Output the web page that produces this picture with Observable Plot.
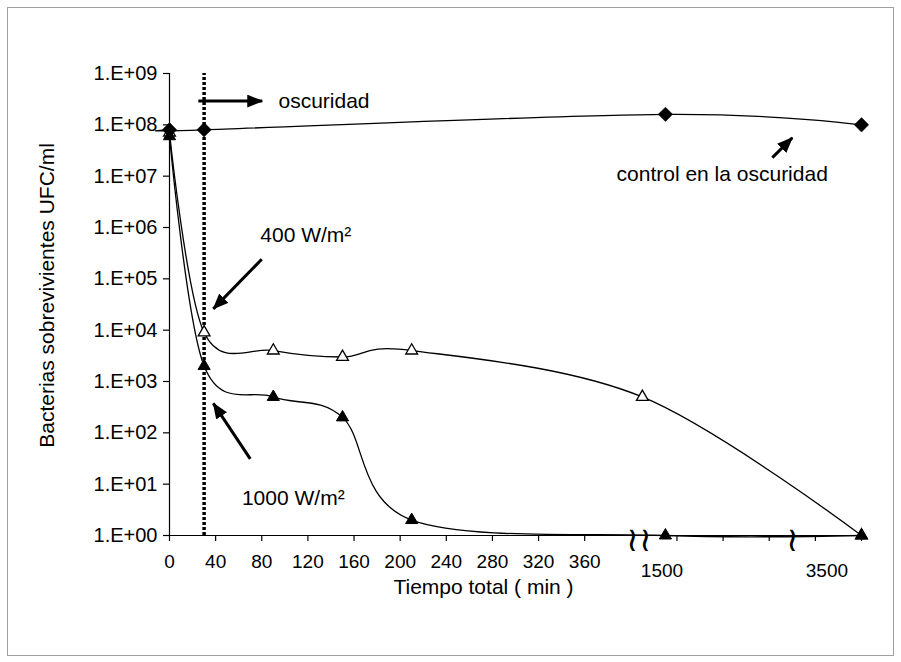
<!DOCTYPE html>
<html><head><meta charset="utf-8">
<script src="https://cdn.jsdelivr.net/npm/d3@7"></script>
<script src="https://cdn.jsdelivr.net/npm/@observablehq/plot@0.6"></script>
<style>
body{margin:0;background:#fff;}
#wrap{position:relative;width:901px;height:662px;}
#wrap svg{position:absolute;left:0;top:0;}
#frame{position:absolute;left:7px;top:7px;width:885px;height:647px;border:1px solid #a0a0a0;pointer-events:none;}
</style></head><body><div id="wrap"><div id="frame"></div></div>
<script>
// Data (x in axis units: minutes on the compressed axis)
const controlTime = [0, 30, 430, 600];
const controlUFC = [8e7, 8e7, 1.6e8, 1e8];
const w400Time = [0, 30, 90, 150, 210, 410, 600];
const w400UFC = [7e7, 9e3, 4e3, 3e3, 4e3, 5e2, 1];
const w1000Time = [0, 30, 90, 150, 210, 430, 600];
const w1000UFC = [6e7, 2e3, 5e2, 2e2, 2, 1, 1];
const xTicks = [0, 40, 80, 120, 160, 200, 240, 280, 320, 360, 440, 480, 520, 560, 600];
const yTicks = [1, 1e1, 1e2, 1e3, 1e4, 1e5, 1e6, 1e7, 1e8, 1e9];
const extraXLabels = ["1500", "3500"];
const extraXLabelPos = [427, 570];
const axisBreaks = [407, 540];
const breakGlyphs = ["≀≀", "≀"];
const darkStart = 30;
const annTexts = ["oscuridad", "400 W/m²", "1000 W/m²", "control en la oscuridad"];
const annTextX = [94.5, 78.7, 62.8, 387.6];
const annTextY = [2.9e8, 7e5, 5.2, 1.1e7];
const arrowX1 = [25, 80, 70, 522.7];
const arrowY1 = [2.9e8, 2.4e5, 31, 2.3e7];
const arrowX2 = [80.4, 38, 38, 540];
const arrowY2 = [2.9e8, 2.6e4, 375, 5.6e7];

const zip = (xs, ys) => xs.map((x, i) => ({x, y: ys[i]}));
const control = zip(controlTime, controlUFC);
const w400 = zip(w400Time, w400UFC);
const w1000 = zip(w1000Time, w1000UFC);
const annotations = annTexts.map((t, i) => ({t, x: annTextX[i], y: annTextY[i]}));
const arrows = arrowX1.map((x1, i) => ({x1, y1: arrowY1[i], x2: arrowX2[i], y2: arrowY2[i]}));
const extra = extraXLabels.map((l, i) => ({l, x: extraXLabelPos[i]}));
const breaks = axisBreaks.map((x, i) => ({x, g: breakGlyphs[i]}));
const fmtY = d => "1.E+" + String(Math.round(Math.log10(d))).padStart(2, "0");

const chart = Plot.plot({
  width: 901, height: 662,
  marginLeft: 169, marginRight: 40, marginTop: 73, marginBottom: 127,
  style: {fontFamily: "'Liberation Sans', Arial, sans-serif", fontSize: "20px", background: "transparent", color: "black"},
  x: {domain: [0, 600]},
  y: {type: "log", domain: [1, 1e9]},
  marks: [
    Plot.ruleX([darkStart], {y1: 1, y2: 1e9, stroke: "black", strokeWidth: 3.5, strokeDasharray: "3,2"}),
    Plot.ruleX([0], {y1: 1, y2: 1e9, stroke: "black", strokeWidth: 1.2}),
    Plot.ruleY([1], {x1: 0, x2: 600, stroke: "black", strokeWidth: 1.2}),
    Plot.axisY({ticks: yTicks, tickFormat: fmtY, tickSize: 6, tickPadding: 6, label: null, strokeWidth: 1.2}),
    Plot.axisX({ticks: xTicks, tickFormat: d => d <= 360 ? String(d) : "", tickSize: 6, tickPadding: 13, label: null, strokeWidth: 1.2, fontSize: 19}),
    Plot.text(extra, {x: "x", y: 1, text: "l", dy: 35, fontSize: 19}),
    Plot.text(breaks, {x: "x", y: 1, text: "g", fontSize: 34, dy: 5, fontWeight: 300}),
    Plot.line(control, {x: "x", y: "y", curve: "cardinal", tension: 0, stroke: "black", strokeWidth: 1.3}),
    Plot.line(w400, {x: "x", y: "y", curve: "cardinal", tension: 0, stroke: "black", strokeWidth: 1.3}),
    Plot.line(w1000, {x: "x", y: "y", curve: "cardinal", tension: 0, stroke: "black", strokeWidth: 1.3}),
    Plot.dot(w400, {x: "x", y: "y", symbol: "triangle", r: 4.4, fill: "white", stroke: "black", strokeWidth: 1.3}),
    Plot.dot(w1000, {x: "x", y: "y", symbol: "triangle", r: 4.5, fill: "black", stroke: "black", strokeWidth: 1}),
    Plot.dot(control, {x: "x", y: "y", symbol: "diamond2", r: 6.5, fill: "black", stroke: "black", strokeWidth: 0.5}),
    Plot.link(arrows, {x1: "x1", y1: "y1", x2: "x2", y2: "y2", stroke: "black", strokeWidth: 3, className: "annarrow"}),
    Plot.text(annotations, {x: "x", y: "y", text: "t", textAnchor: "start", fontSize: 21}),
    Plot.text(["Bacterias sobrevivientes UFC/ml"], {frameAnchor: "left", textAnchor: "middle", dx: -122, dy: -9, rotate: -90, fontSize: 21}),
    Plot.text(["Tiempo total ( min )"], {frameAnchor: "bottom", dx: -32, dy: 58, fontSize: 21})
  ]
});

const svg = d3.select(chart);
const defs = svg.insert("defs", ":first-child");
defs.append("marker").attr("id", "ahead").attr("markerUnits", "userSpaceOnUse")
  .attr("markerWidth", 16).attr("markerHeight", 13).attr("refX", 15).attr("refY", 6.5)
  .attr("orient", "auto").attr("viewBox", "0 0 16 13")
  .append("path").attr("d", "M0,0 L16,6.5 L0,13 Z").attr("fill", "black");
svg.selectAll(".annarrow path").attr("marker-end", "url(#ahead)");
document.getElementById("wrap").insertBefore(chart, document.getElementById("frame"));
</script></body></html>
